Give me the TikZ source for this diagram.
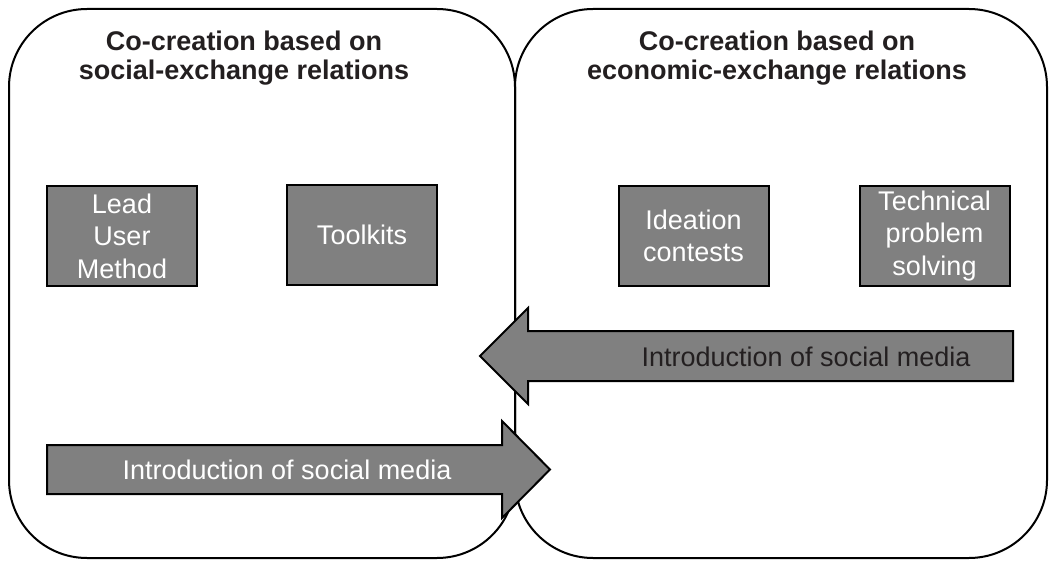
\documentclass[tikz,border=0pt]{standalone}
\usepackage{fontspec}
\setmainfont{Liberation Sans}
\definecolor{boxgray}{HTML}{808080}
\definecolor{darktext}{HTML}{231F20}
\begin{document}
\begin{tikzpicture}[x=1pt,y=-1pt,
  panel/.style={draw=black, line width=2pt, rounded corners=78pt},
  title/.style={font=\fontsize{27}{29.5}\selectfont\bfseries, align=center, text=darktext, inner sep=0pt},
  method/.style={draw=black, line width=2pt, fill=boxgray, minimum width=150pt, minimum height=100pt, inner sep=0pt, text=white, align=center, font=\fontsize{27}{32.5}\selectfont},
  bigarrow/.style={draw=black, line width=2pt, fill=boxgray, line join=miter},
  arrowtext/.style={font=\fontsize{27}{30}\selectfont, inner sep=0pt}
]
\useasboundingbox (0,0) rectangle (1051,561);
% panels
\draw[panel] (9,9) rectangle (515,558);
\draw[panel] (515,9) rectangle (1047,558);
% titles
\node[title] (tl) at (244,58) {Co-creation based on\\social-exchange relations};
\node[title] (tr) at (777,58) {Co-creation based on\\economic-exchange relations};
% method boxes
\node[method] (lead) at (122,236) {Lead\\User\\Method};
\node[method] (tool) at (362,235) {Toolkits};
\node[method] (idea) at (693.5,236) {Ideation\\contests};
\node[method] (tech) at (934.5,236) {Technical\\problem\\solving};
% upper arrow (pointing left)
\draw[bigarrow] (1013,331) -- (528,331) -- (528,308) -- (480,356) -- (528,404) -- (528,381) -- (1013,381) -- cycle;
\node[arrowtext, text=darktext] (up) at (806,357) {Introduction of social media};
% lower arrow (pointing right)
\draw[bigarrow] (47,445) -- (502,445) -- (502,421) -- (550,469.5) -- (502,518) -- (502,494) -- (47,494) -- cycle;
\node[arrowtext, text=white] (low) at (287,470) {Introduction of social media};
\end{tikzpicture}
\end{document}
